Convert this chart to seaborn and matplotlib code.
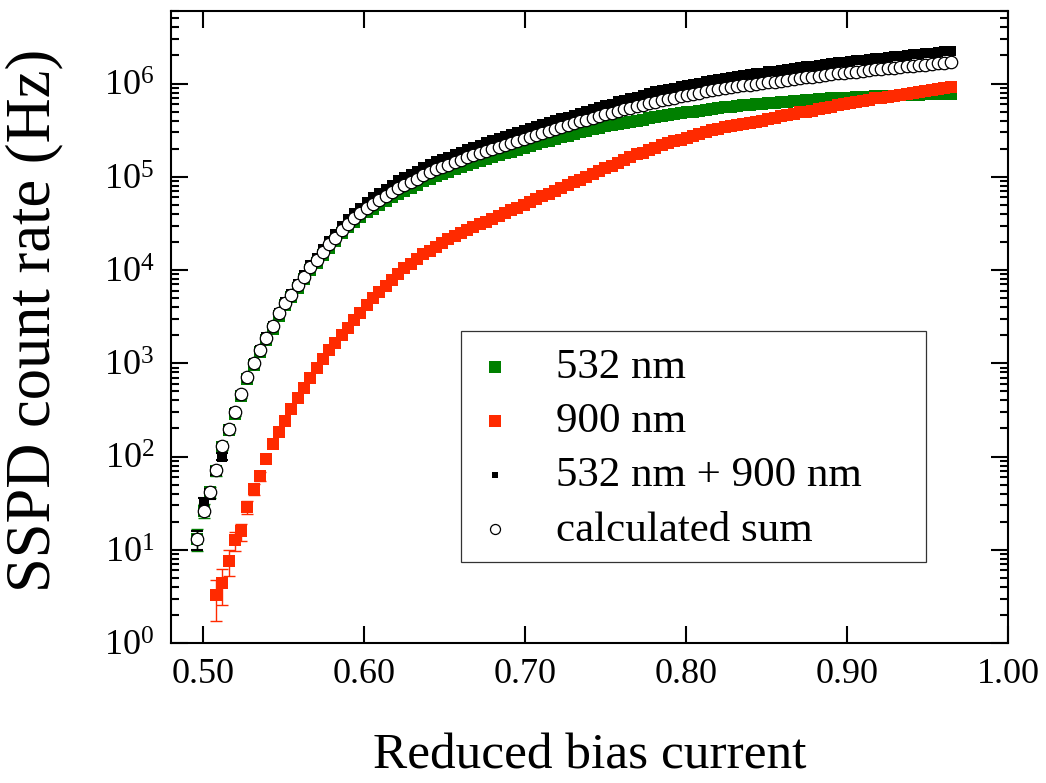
import numpy as np
import matplotlib
matplotlib.use("Agg")
import matplotlib.pyplot as plt
import seaborn as sns
from matplotlib.ticker import FixedLocator, FuncFormatter, LogLocator, NullLocator
from matplotlib.patches import Rectangle

# reduced bias current sweep (121 steps)
bias = np.linspace(0.4963, 0.9643, 121)

green_532 = [13.2, 26.3, 41.7, 69.2, 126, 191, 288, 447, 676, 955,
 1320, 1780, 2340, 3240, 4170, 5130, 6460, 7940, 10000, 12000,
 14500, 17400, 20400, 25100, 28800, 33100, 37200, 41700, 45700, 50100,
 55000, 60300, 66100, 70800, 75900, 81300, 89100, 95500, 102000, 107000,
 112000, 120000, 126000, 135000, 141000, 148000, 155000, 162000, 170000, 178000,
 186000, 195000, 204000, 214000, 224000, 234000, 245000, 257000, 269000, 275000,
 288000, 302000, 309000, 324000, 331000, 347000, 355000, 372000, 380000, 389000,
 398000, 407000, 427000, 437000, 447000, 457000, 468000, 479000, 490000, 501000,
 513000, 525000, 537000, 550000, 562000, 566000, 575000, 589000, 592000, 603000,
 606000, 617000, 620000, 631000, 634000, 646000, 649000, 661000, 664000, 676000,
 679000, 692000, 695000, 698000, 708000, 711000, 714000, 724000, 727000, 730000,
 741000, 744000, 747000, 750000, 759000, 762000, 765000, 768000, 776000, 779000,
 782000]

# 900 nm starts at the 4th bias step
red_900 = [3.24, 4.37, 7.59, 12.6, 15.8, 28.8, 44.7, 61.7, 93.3, 135,
 182, 240, 324, 427, 537, 692, 891, 1120, 1380, 1660,
 2000, 2400, 2880, 3470, 4170, 5010, 5750, 6760, 7760, 9120,
 10500, 11700, 13200, 14800, 16200, 17800, 19500, 21400, 22900, 25100,
 26900, 28800, 30900, 33100, 35500, 38000, 40700, 43700, 46800, 50100,
 53700, 57500, 61700, 66100, 70800, 75900, 81300, 87100, 93300, 100000,
 107000, 115000, 123000, 132000, 141000, 151000, 162000, 174000, 182000, 195000,
 204000, 219000, 229000, 240000, 251000, 263000, 275000, 288000, 302000, 316000,
 324000, 339000, 347000, 363000, 372000, 380000, 389000, 398000, 417000, 427000,
 447000, 457000, 468000, 490000, 501000, 513000, 537000, 550000, 562000, 589000,
 603000, 617000, 631000, 646000, 661000, 692000, 708000, 724000, 741000, 759000,
 776000, 794000, 813000, 832000, 851000, 871000, 891000, 912000]

both_532_900 = [13, 31, 40, 70, 100, 195, 300, 460, 700, 1000,
 1400, 1900, 2500, 3450, 4500, 5600, 7100, 8800, 11200, 13600,
 17000, 20500, 24200, 30000, 35000, 41000, 46800, 53500, 60800, 67500,
 74800, 82500, 91500, 99000, 107000, 116000, 127000, 137000, 147000, 156000,
 164000, 176000, 186000, 199000, 210000, 222000, 234000, 246000, 259000, 273000,
 287000, 301000, 317000, 334000, 350000, 368000, 388000, 407000, 426000, 441000,
 463000, 489000, 509000, 538000, 556000, 588000, 609000, 643000, 671000, 696000,
 722000, 750000, 793000, 823000, 850000, 876000, 904000, 940000, 971000, 993000,
 1025000, 1058000, 1084000, 1120000, 1147000, 1173000, 1196000, 1236000, 1253000, 1291000,
 1310000, 1350000, 1369000, 1409000, 1428000, 1460000, 1494000, 1526000, 1548000, 1597000,
 1620000, 1653000, 1694000, 1718000, 1750000, 1773000, 1798000, 1831000, 1877000, 1902000,
 1938000, 1965000, 1993000, 2020000, 2056000, 2085000, 2115000, 2144000, 2182000, 2212000,
 2245000]

calc_sum = [13.2, 26.3, 41.7, 72.4, 130, 199, 301, 463, 705, 1000,
 1380, 1870, 2480, 3420, 4410, 5450, 6890, 8480, 10700, 12900,
 15700, 18800, 22000, 27100, 31200, 36000, 40700, 45900, 50700, 55900,
 61800, 68100, 75200, 81300, 87600, 94500, 103900, 111700, 119800, 126500,
 133400, 142900, 151100, 161900, 169800, 178900, 188100, 197500, 208000, 218700,
 229700, 241800, 254100, 267700, 281500, 295700, 311700, 327100, 344400, 356300,
 375000, 395400, 409000, 431000, 446000, 470000, 487000, 513000, 531000, 551000,
 572000, 589000, 622000, 641000, 666000, 686000, 708000, 730000, 753000, 776000,
 801000, 827000, 853000, 874000, 901000, 913000, 938000, 961000, 972000, 992000,
 1004000, 1034000, 1047000, 1078000, 1091000, 1114000, 1139000, 1162000, 1177000, 1213000,
 1229000, 1254000, 1284000, 1301000, 1325000, 1342000, 1360000, 1385000, 1419000, 1438000,
 1465000, 1485000, 1506000, 1526000, 1553000, 1575000, 1597000, 1619000, 1647000, 1670000,
 1694000]

# error bars of the low-count points (first points of each series)
green_err = [3.5, 4.3, 5.4, 6.9, 9.4, 11.5, 14, 17.6, 21.7]
red_err = [1.5, 1.8, 2.3, 3.0, 3.3, 4.5, 5.6, 6.5]
both_err = [3.0, 4.6, 5.3, 7.0, 8.3, 11.6, 14.4, 17.9, 22]

labels = ["532 nm", "900 nm", "532 nm + 900 nm", "calculated sum"]
x_ticks = [0.50, 0.60, 0.70, 0.80, 0.90, 1.00]
y_ticks = [1e0, 1e1, 1e2, 1e3, 1e4, 1e5, 1e6]

GREEN = "#008000"
RED = "#ff2a00"

sns.set_theme(style="ticks")
plt.rcParams["font.family"] = ["Liberation Serif", "DejaVu Serif"]
plt.rcParams["mathtext.fontset"] = "custom"
plt.rcParams["mathtext.rm"] = "Liberation Serif"
plt.rcParams["mathtext.it"] = "Liberation Serif:italic"
plt.rcParams["axes.linewidth"] = 1.5
plt.rcParams["axes.edgecolor"] = "black"

fig = plt.figure(figsize=(10.46, 7.83), dpi=100)
W, H = 1046, 783
ax = fig.add_axes([171 / W, 1 - 643 / H, 837 / W, 632 / H])
ax.set_yscale("log")

red_x = bias[len(bias) - len(red_900):]

ax.errorbar(bias[:len(green_err)], green_532[:len(green_err)], yerr=green_err,
            fmt="none", ecolor=GREEN, elinewidth=1.0, capsize=4, capthick=1.0, zorder=2)
sns.scatterplot(x=bias, y=green_532, marker="s", s=78, color=GREEN, linewidth=0,
                label=labels[0], ax=ax, zorder=3)

ax.errorbar(red_x[:len(red_err)], red_900[:len(red_err)], yerr=red_err,
            fmt="none", ecolor=RED, elinewidth=1.0, capsize=4, capthick=1.0, zorder=4)
sns.scatterplot(x=red_x, y=red_900, marker="s", s=78, color=RED, linewidth=0,
                label=labels[1], ax=ax, zorder=5)

ax.errorbar(bias[:len(both_err)], both_532_900[:len(both_err)], yerr=both_err,
            fmt="none", ecolor="black", elinewidth=1.0, capsize=4, capthick=1.5, zorder=6)
sns.scatterplot(x=bias, y=both_532_900, marker="s", s=42, color="black", linewidth=0,
                label=labels[2], ax=ax, zorder=7)

sns.scatterplot(x=bias, y=calc_sum, marker="o", s=80, facecolor="white",
                edgecolor="black", linewidth=0.9, label=labels[3], ax=ax, zorder=8)

ax.set_xlim(0.48, 1.0)
ax.set_ylim(1, 6e6)
ax.xaxis.set_major_locator(FixedLocator(x_ticks))
ax.xaxis.set_major_formatter(FuncFormatter(lambda v, p: f"{v:.2f}"))
ax.xaxis.set_minor_locator(NullLocator())
ax.yaxis.set_major_locator(FixedLocator(y_ticks))
ax.yaxis.set_major_formatter(FuncFormatter(lambda v, p: f"$10^{{{int(round(np.log10(v)))}}}$"))
ax.yaxis.set_minor_locator(LogLocator(base=10, subs=range(2, 10), numticks=30))

ax.tick_params(which="both", direction="in", top=True, right=True, width=1.5,
               color="black", labelcolor="black")
ax.tick_params(which="major", length=12, labelsize=26)
ax.tick_params(which="minor", length=6)
ax.tick_params(axis="x", pad=11)
ax.tick_params(axis="y", pad=12)

ax.set_xlabel("Reduced bias current", fontsize=37, color="black")
ax.set_ylabel("SSPD count rate (Hz)", fontsize=45, color="black")
ax.xaxis.set_label_coords(0.5, -0.143)
ax.yaxis.set_label_coords(-0.128, 0.511)

leg = ax.legend(loc="upper left", bbox_to_anchor=(0.3668, 0.467), borderaxespad=0,
                borderpad=0, frameon=False, fontsize=31, handlelength=0.8,
                handletextpad=1.0, labelspacing=0.35)
for t in leg.get_texts():
    t.set_color("black")
hs = leg.legend_handles
hs[0].set_sizes([80])
hs[1].set_sizes([80])
hs[2].set_sizes([25])
hs[3].set_sizes([52])
ax.add_patch(Rectangle((0.3465, 0.128), 0.902 - 0.3465, 0.4937 - 0.128,
                       transform=ax.transAxes, fill=False, edgecolor="#333333",
                       linewidth=0.9, zorder=10))

fig.savefig("out.png", dpi=100, facecolor="white")
